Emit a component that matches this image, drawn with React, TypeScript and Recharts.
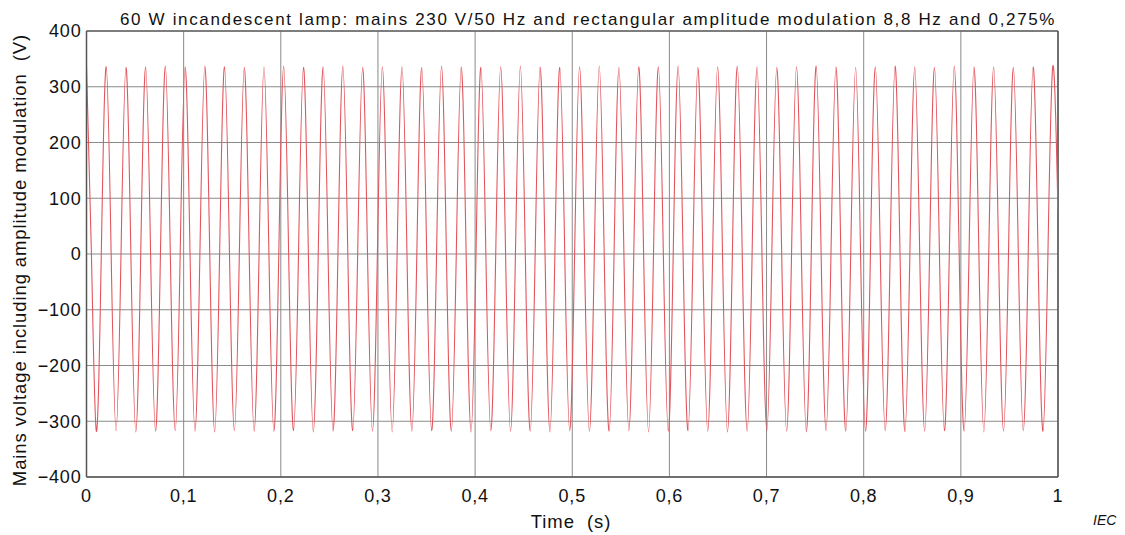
import React from 'react';
import { LineChart, Line, XAxis, YAxis, CartesianGrid, ReferenceLine } from 'recharts';

// one cycle of the mains as drawn: ~0.0203 s on the time axis
const PERIOD = 0.0203;

// crest voltage of each cycle (V)
const peakVolts = [
  338, 336, 335, 336, 337, 336, 337, 336, 335, 336,
  337, 335, 336, 337, 335, 336, 336, 335, 337, 336,
  335, 336, 337, 336, 335, 336, 337, 335, 336, 336,
  337, 335, 336, 337, 336, 335, 336, 337, 336, 335,
  336, 337, 336, 335, 337, 336, 336, 335, 336, 337,
];

// trough voltage of each cycle (V)
const troughVolts = [
  -318, -317, -319, -318, -317, -318, -319, -317, -318, -318,
  -317, -319, -318, -317, -318, -319, -318, -317, -318, -319,
  -317, -318, -318, -319, -317, -318, -318, -317, -319, -318,
  -317, -318, -319, -318, -317, -318, -319, -317, -318, -318,
  -317, -319, -318, -317, -318, -319, -318, -317, -318,
];

// value where the trace is cut off at t = 1 s
const endVolt = 75;

const xTicks = [0, 0.1, 0.2, 0.3, 0.4, 0.5, 0.6, 0.7, 0.8, 0.9, 1];
const yTicks = [-400, -300, -200, -100, 0, 100, 200, 300, 400];

const TITLE = '60 W incandescent lamp: mains 230 V/50 Hz and rectangular amplitude modulation 8,8 Hz and 0,275%';

const data: { t: number; v: number }[] = [];
peakVolts.forEach((p, k) => {
  data.push({ t: k * PERIOD, v: p });
  if (k < troughVolts.length) {
    data.push({ t: (k + 0.25) * PERIOD, v: 0 });
    data.push({ t: (k + 0.5) * PERIOD, v: troughVolts[k] });
    data.push({ t: (k + 0.75) * PERIOD, v: 0 });
  }
});
data.push({ t: 1, v: endVolt });

const font = '"Liberation Sans", Arial, Helvetica, sans-serif';
const tickStyle = { fontSize: 18, fill: '#111', fontFamily: font, letterSpacing: 0.8 };

const fmtX = (v: number) => String(v).replace('.', ',');
const fmtY = (v: number) => String(v).replace('-', '\u2212');

export default function App() {
  return (
    <div style={{ position: 'relative', width: 1117, height: 527, fontFamily: font, color: '#111' }}>
      <LineChart
        width={1117}
        height={527}
        data={data}
        margin={{ top: 23, right: 67, left: 18.5, bottom: 28 }}
      >
        <CartesianGrid stroke="#8a8a8a" strokeWidth={1} />
        <XAxis
          dataKey="t"
          type="number"
          domain={[0, 1]}
          ticks={xTicks}
          tickFormatter={fmtX}
          tick={tickStyle}
          tickLine={false}
          tickSize={0}
          tickMargin={12}
          height={30}
          axisLine={{ stroke: '#555', strokeWidth: 1.5 }}
          allowDataOverflow
        />
        <YAxis
          type="number"
          domain={[-400, 400]}
          ticks={yTicks}
          tickFormatter={fmtY}
          tick={tickStyle}
          tickLine={false}
          tickSize={0}
          tickMargin={5}
          width={60}
          axisLine={{ stroke: '#555', strokeWidth: 1.5 }}
          allowDataOverflow
        />
        <ReferenceLine y={400} stroke="#666" strokeWidth={1.5} />
        <ReferenceLine x={1} stroke="#555" strokeWidth={1.5} />
        <Line
          type="natural"
          dataKey="v"
          stroke="#e2555c"
          strokeWidth={1.1}
          dot={false}
          isAnimationActive={false}
        />
      </LineChart>

      <div style={{ position: 'absolute', left: 112, top: 2, fontSize: 17, letterSpacing: 1.65, whiteSpace: 'nowrap' }}>
        {TITLE}
      </div>
      <div
        style={{
          position: 'absolute',
          left: 12,
          top: 252,
          fontSize: 18.5,
          letterSpacing: 0.9,
          whiteSpace: 'pre',
          transform: 'translate(-50%, -50%) rotate(-90deg)',
        }}
      >
        {'Mains voltage including amplitude modulation  (V)'}
      </div>
      <div
        style={{
          position: 'absolute',
          left: 563,
          top: 514,
          fontSize: 18.5,
          letterSpacing: 0.9,
          whiteSpace: 'pre',
          transform: 'translate(-50%, -50%)',
        }}
      >
        {'Time  (s)'}
      </div>
      <div style={{ position: 'absolute', left: 1085, top: 504, fontSize: 14, fontStyle: 'italic' }}>IEC</div>
    </div>
  );
}
